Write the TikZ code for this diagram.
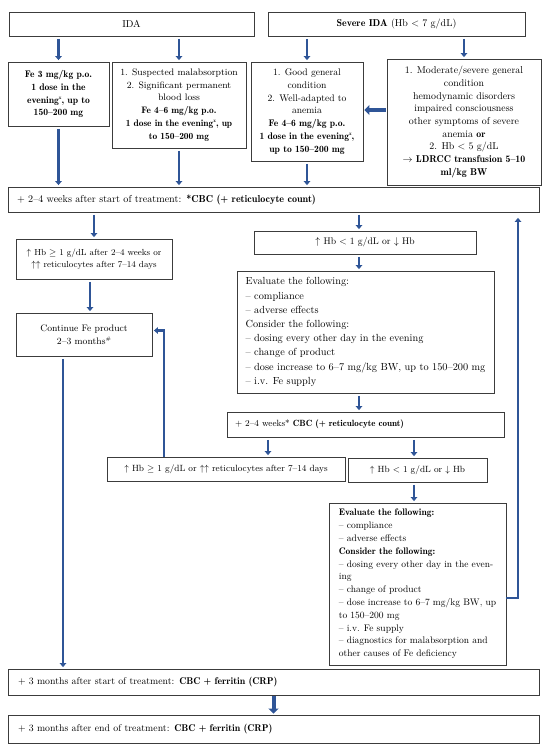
\documentclass[tikz,border=0pt]{standalone}
\usetikzlibrary{arrows.meta,calc}
\renewcommand{\bfdefault}{b}
\definecolor{ablue}{RGB}{47,85,151}
\definecolor{bline}{RGB}{60,60,60}
\newcommand{\supx}{\raisebox{0.9ex}{\fontsize{5}{5}\selectfont x}}
\newcommand{\fs}[2]{\fontsize{#1}{#2}\selectfont}
\begin{document}
\begin{tikzpicture}[x=1pt,y=-1pt,
  box/.style={draw=bline, line width=0.8pt, inner sep=0pt, align=center,
    font=\fs{9.6}{12.8}},
  lbox/.style={box, align=left, inner xsep=9pt},
  arr/.style={draw=ablue, line width=2.6pt, -{Triangle[length=4pt,width=6.5pt]},
    shorten <=2.5pt, shorten >=1.5pt},
  fatarr/.style={draw=ablue, line width=4pt, -{Triangle[length=5pt,width=10pt]},
    shorten <=1pt, shorten >=1pt}
]
\useasboundingbox (0,0) rectangle (550,750);
\fill[white] (0,0) rectangle (550,750);

% top row
\node[box, font=\fs{10}{12.8}, minimum width=245pt, minimum height=24pt] (ida) at (131.5,24) {IDA};
\node[box, font=\fs{10}{12.8}, minimum width=257pt, minimum height=24pt] (sev) at (396.5,24) {\textbf{Severe IDA} (Hb < 7 g/dL)};

\node[box, minimum width=101pt, minimum height=64pt] (A) at (58.5,94)
  {\textbf{Fe 3 mg/kg p.o.}\\\textbf{1 dose in the}\\\textbf{evening\supx, up to}\\\textbf{150--200 mg}};
\node[box, font=\fs{9.4}{12.8}, minimum width=134pt, minimum height=86pt] (B) at (179,105)
  {1. Suspected malabsorption\\2. Significant permanent\\blood loss\\\textbf{Fe 4--6 mg/kg p.o.}\\\textbf{1 dose in the evening\supx, up}\\\textbf{to 150--200 mg}};
\node[box, minimum width=112pt, minimum height=99pt] (C) at (307,111.5)
  {1. Good general\\condition\\2. Well-adapted to\\anemia\\\textbf{Fe 4--6 mg/kg p.o.}\\\textbf{1 dose in the evening\supx,}\\\textbf{up to 150--200 mg}};
\node[box, font=\fs{9.9}{12.7}, minimum width=154pt, minimum height=126pt] (D) at (464,122)
  {1. Moderate/severe general\\condition\\hemodynamic disorders\\impaired consciousness\\other symptoms of severe\\anemia \textbf{or}\\2. Hb < 5 g/dL\\\textbf{$\rightarrow$ LDRCC transfusion 5--10}\\\textbf{ml/kg BW}};

% first check
\node[lbox, font=\fs{10.1}{12.8}, text width=513pt, minimum height=25pt] (E) at (273.5,199.5)
  {+ 2--4 weeks after start of treatment: \textbf{*CBC (+ reticulocyte count)}};

% left branch
\node[box, font=\fs{8.8}{12.8}, minimum width=156pt, minimum height=40pt] (F) at (94,259)
  {$\uparrow$ Hb $\geq$ 1 g/dL after 2--4 weeks or\\$\uparrow\uparrow$ reticulocytes after 7--14 days};
\node[box, font=\fs{9.4}{12.8}, minimum width=136pt, minimum height=43pt] (G) at (84,334.5)
  {Continue Fe product\\2--3 months\raisebox{0.9ex}{\fontsize{5}{5}\selectfont\#}};

% right branch
\node[box, font=\fs{9.6}{12.8}, minimum width=222pt, minimum height=23pt] (H) at (365,242.5)
  {$\uparrow$ Hb < 1 g/dL or $\downarrow$ Hb};
\node[box, align=left, font=\fs{10.3}{14.2}, minimum width=257pt, minimum height=122pt] (I) at (365.5,332)
  {Evaluate the following:\\
   -- compliance\\
   -- adverse effects\\
   Consider the following:\\
   -- dosing every other day in the evening\\
   -- change of product\\
   -- dose increase to 6--7 mg/kg BW, up to 150--200 mg\\
   -- i.v. Fe supply};
\node[lbox, font=\fs{9}{12.8}, inner xsep=8pt, text width=261pt, minimum height=25pt] (J) at (365.5,424.5)
  {+ 2--4 weeks* \textbf{CBC (+ reticulocyte count)}};
\node[box, font=\fs{9}{12.8}, minimum width=238pt, minimum height=24pt] (L) at (226,469)
  {$\uparrow$ Hb $\geq$ 1 g/dL or $\uparrow\uparrow$ reticulocytes after 7--14 days};
\node[box, font=\fs{9}{12.8}, minimum width=139pt, minimum height=24pt] (M) at (417.5,470)
  {$\uparrow$ Hb < 1 g/dL or $\downarrow$ Hb};
\node[box, align=left, font=\fs{9.5}{12.8}, minimum width=177pt, minimum height=162pt] (N) at (417.5,584)
  {\textbf{Evaluate the following:}\\
   -- compliance\\
   -- adverse effects\\
   \textbf{Consider the following:}\\
   -- dosing every other day in the even-\\
   ing\\
   -- change of product\\
   -- dose increase to 6--7 mg/kg BW, up\\
   to 150--200 mg\\
   -- i.v. Fe supply\\
   -- diagnostics for malabsorption and\\
   other causes of Fe deficiency};

% bottom
\node[lbox, font=\fs{9.8}{12.8}, inner xsep=10pt, text width=511pt, minimum height=26pt] (O) at (273.5,682)
  {+ 3 months after start of treatment: \textbf{CBC + ferritin (CRP)}};
\node[lbox, font=\fs{9.8}{12.8}, inner xsep=10pt, text width=511pt, minimum height=28pt] (P) at (273.5,729)
  {+ 3 months after end of treatment: \textbf{CBC + ferritin (CRP)}};

% helper coordinates
\coordinate (cx) at (359,0);
\coordinate (fb) at (518,0);

% arrows top
\draw[arr] (ida.south -| A.north) -- (A.north);
\draw[arr] (ida.south -| B.north) -- (B.north);
\draw[arr] (sev.south -| C.north) -- (C.north);
\draw[arr] (sev.south -| D.north) -- (D.north);
\draw[fatarr] (D.west |- 0,110) -- (C.east |- 0,110);
\draw[arr] (A.south) -- (A.south |- E.north);
\draw[arr] (B.south) -- (B.south |- E.north);
\draw[arr] (C.south) -- (C.south |- E.north);

% left branch arrows
\draw[arr] (E.south -| F.north) -- (F.north);
\draw[arr] (F.south -| 90,0) -- (G.north -| 90,0);
\draw[arr] ([xshift=-21pt]G.south) -- ([xshift=-21pt]G.south |- O.north);

% right branch arrows
\draw[arr] (E.south -| cx) -- (H.north -| cx);
\draw[arr] (H.south -| cx) -- (I.north -| cx);
\draw[arr] (I.south -| cx) -- (J.north -| cx);
\draw[arr] (J.south -| 268,0) -- (L.north -| 268,0);
\draw[arr] (J.south -| 414,0) -- (M.north -| 414,0);
\draw[arr] (M.south -| 414,0) -- (N.north -| 414,0);

% feedback arrows
\draw[arr, shorten <=0pt] ([yshift=-14pt]N.east) -| ([yshift=-4pt]E.south -| fb);
\draw[arr, shorten <=0pt] ([xshift=-62pt]L.north) |- ([yshift=4pt]G.east);

% bottom double arrow
\draw[fatarr] (O.south) -- (P.north);
\end{tikzpicture}
\end{document}
